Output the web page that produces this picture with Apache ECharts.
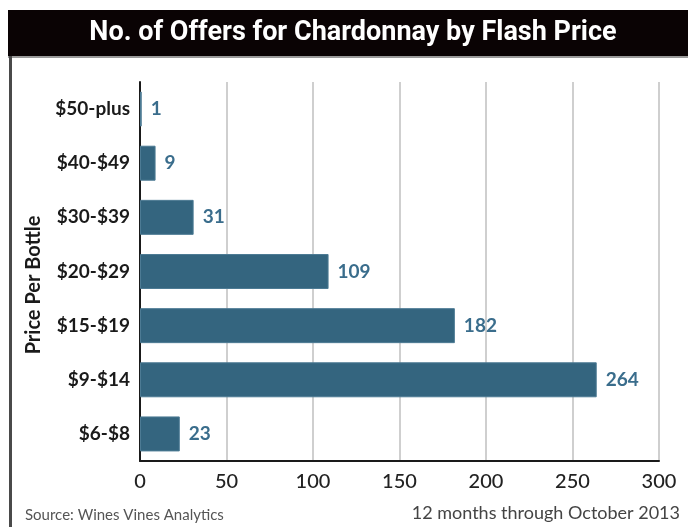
<!DOCTYPE html>
<html><head><meta charset="utf-8">
<script src="https://cdn.jsdelivr.net/npm/echarts@6/dist/echarts.min.js"></script>
<style>html,body{margin:0;padding:0;background:#fff}#c{width:688px;height:527px}</style>
</head><body><div id="c"></div>
<script>
const categories = ["$6-$8", "$9-$14", "$15-$19", "$20-$29", "$30-$39", "$40-$49", "$50-plus"];
const offers = [23, 264, 182, 109, 31, 9, 1];
const xTicks = [0, 50, 100, 150, 200, 250, 300];
const titleText = "No. of Offers for Chardonnay by Flash Price";
const yAxisTitle = "Price Per Bottle";
const sourceText = "Source: Wines Vines Analytics";
const periodText = "12 months through October 2013";

const chart = echarts.init(document.getElementById('c'), null, {renderer: 'canvas'});
chart.setOption({
  animation: false,
  backgroundColor: '#fff',
  grid: {left: 140, right: 29, top: 82, bottom: 66, containLabel: false},
  xAxis: {
    type: 'value', min: xTicks[0], max: xTicks[xTicks.length - 1], interval: 50,
    axisLine: {show: true, lineStyle: {color: '#1a1a1a', width: 2}},
    axisTick: {show: false},
    splitLine: {show: true, lineStyle: {color: '#cfcfcf', width: 2}},
    axisLabel: {color: '#222', fontSize: 20, fontFamily: 'Lato', fontWeight: 500, margin: 11}
  },
  yAxis: {
    type: 'category', data: categories,
    axisLine: {show: true, lineStyle: {color: '#1a1a1a', width: 2}},
    axisTick: {show: false},
    axisLabel: {color: '#1a1a1a', fontSize: 19, fontFamily: 'Lato', fontWeight: 'bold', margin: 10}
  },
  series: [{
    type: 'bar', data: offers, barWidth: 35,
    itemStyle: {color: '#34657f', borderColor: '#4d7b94', borderWidth: 1},
    label: {show: true, position: 'right', distance: 9, color: '#3a6d8c',
      fontSize: 19, fontFamily: 'Lato', fontWeight: 'bold'}
  }],
  graphic: [
    {type: 'rect', left: 8, top: 10, shape: {width: 680, height: 46}, style: {fill: '#0a0304'}},
    {type: 'rect', left: 8, top: 56, shape: {width: 680, height: 2}, style: {fill: '#9a9a9a'}},
    {type: 'rect', left: 9, top: 56, shape: {width: 3, height: 471}, style: {fill: '#4a4a4a'}},
    {type: 'text', x: 353, y: 33, style: {text: titleText, fill: '#fff',
      font: 'bold 27px "Roboto", sans-serif', textAlign: 'center', textVerticalAlign: 'middle'}},
    {type: 'text', x: 34, y: 285, rotation: Math.PI / 2,
      style: {text: yAxisTitle, fill: '#1a1a1a', font: 'bold 20px Lato',
        textAlign: 'center', textVerticalAlign: 'middle'}},
    {type: 'text', x: 25, y: 515, style: {text: sourceText, fill: '#555',
      font: '15px Lato', textVerticalAlign: 'middle'}},
    {type: 'text', x: 680, y: 513, style: {text: periodText, fill: '#444',
      font: '18px Lato', textAlign: 'right', textVerticalAlign: 'middle'}}
  ]
});
</script></body></html>
